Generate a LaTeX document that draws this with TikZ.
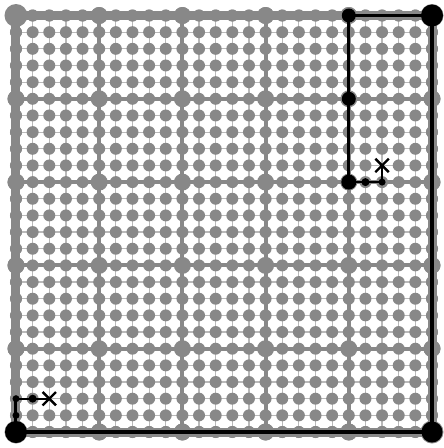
\documentclass[tikz,border=0pt]{standalone}
\usetikzlibrary{shapes.misc}
\definecolor{mgray}{RGB}{136,136,136}
\definecolor{lgray}{RGB}{185,185,185}
\tikzset{
  fineline/.style={draw=lgray, line width=1.2pt},
  coarseline/.style={draw=mgray, line width=4pt},
  topline/.style={draw=mgray, line width=9pt, line cap=rect},
  finedot/.style={fill=mgray},
  pathfine/.style={draw=black, line width=2.2pt},
  pathcoarse/.style={draw=black, line width=2.8pt},
  pathtop/.style={draw=black, line width=3.5pt},
  goalmark/.style={cross out, draw=black, line width=2.4pt, minimum size=11pt, inner sep=0pt},
}
\begin{document}
\begin{tikzpicture}[x=16.64pt,y=-16.66pt]
\useasboundingbox (-16pt,15.5pt) rectangle (428pt,-432.5pt);
% fine grid lines
\foreach \i in {0,...,25} {
  \draw[fineline] (\i,0) -- (\i,25);
  \draw[fineline] (0,\i) -- (25,\i);
}
% coarse lines
\foreach \k in {5,10,15,20} {
  \draw[coarseline] (\k,0) -- (\k,25);
  \draw[coarseline] (0,\k) -- (25,\k);
}
% fine dots
\foreach \i in {0,...,25} {
  \foreach \j in {0,...,25} {
    \pgfmathtruncatemacro\keep{((\i==22 && \j==9) || (\i==2 && \j==23)) ? 0 : 1}
    \ifnum\keep=1
      \fill[finedot] (\i,\j) circle[radius=6pt];
    \fi
  }
}
% coarse dots
\foreach \i in {0,5,...,25} {
  \foreach \j in {0,5,...,25} {
    \fill[mgray] (\i,\j) circle[radius=8.5pt];
  }
}
% top level boundary
\draw[topline] (0,0) rectangle (25,25);
\foreach \i in {0,...,25} {
  \fill[finedot] (\i,0) circle[radius=6pt];
  \fill[finedot] (\i,25) circle[radius=6pt];
  \fill[finedot] (0,\i) circle[radius=6pt];
  \fill[finedot] (25,\i) circle[radius=6pt];
}
\foreach \i in {5,10,15,20} {
  \fill[mgray] (\i,0) circle[radius=8.5pt];
  \fill[mgray] (\i,25) circle[radius=8.5pt];
  \fill[mgray] (0,\i) circle[radius=8.5pt];
  \fill[mgray] (25,\i) circle[radius=8.5pt];
}
\foreach \p in {(0,0),(25,0),(0,25),(25,25)} {
  \fill[mgray] \p circle[radius=11.5pt];
}
% path coordinates
\coordinate (s) at (2,23);
\coordinate (a1) at (1,23);
\coordinate (a2) at (0,23);
\coordinate (a3) at (0,24);
\coordinate (c1) at (0,25);
\coordinate (c2) at (25,25);
\coordinate (c3) at (25,0);
\coordinate (b1) at (20,0);
\coordinate (b2) at (20,5);
\coordinate (b3) at (20,10);
\coordinate (f1) at (21,10);
\coordinate (f2) at (22,10);
\coordinate (g) at (22,9);
% black path
\draw[pathfine] (s) -- (a1) -- (a2);
\draw[pathtop, line width=3pt] (a2) -- (a3) -- (c1);
\draw[pathtop] (c1) -- (c2) -- (c3) -- (b1);
\draw[pathcoarse] (b1) -- (b2) -- (b3);
\draw[pathfine] (b3) -- (f1) -- (f2) -- (g);
% black dots
\fill (c1) circle[radius=11pt];
\fill (c2) circle[radius=10.5pt];
\fill (c3) circle[radius=11pt];
\fill (b1) circle[radius=7pt];
\fill (b2) circle[radius=7pt];
\fill (b3) circle[radius=7.5pt];
\fill (f1) circle[radius=4pt];
\fill (f2) circle[radius=3.5pt];
\fill (a1) circle[radius=4pt];
\fill (a2) circle[radius=3.5pt];
\fill (a3) circle[radius=3.5pt];
% goal marks
\node[goalmark] (gx) at (g) {};
\node[goalmark] (sx) at (s) {};
\end{tikzpicture}
\end{document}
